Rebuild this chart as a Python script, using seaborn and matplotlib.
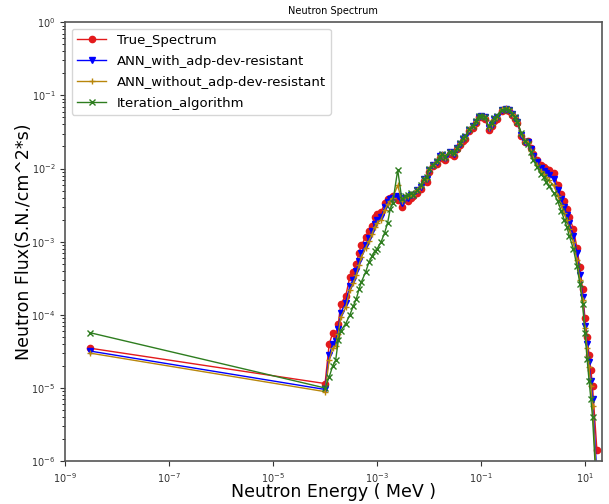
import matplotlib
matplotlib.use("Agg")
import matplotlib.pyplot as plt
import seaborn as sns
import pandas as pd

# energy grid (MeV): one thermal point, then 16 bins per decade from 1e-4 up to ~17 MeV
energy = [3e-9,
          1e-4, 1.2e-4, 1.4e-4, 1.6e-4, 1.8e-4, 2e-4, 2.5e-4, 3e-4, 3.5e-4, 4e-4, 4.5e-4, 5e-4, 6e-4, 7e-4, 8e-4, 9e-4,
          1e-3, 1.2e-3, 1.4e-3, 1.6e-3, 1.8e-3, 2e-3, 2.5e-3, 3e-3, 3.5e-3, 4e-3, 4.5e-3, 5e-3, 6e-3, 7e-3, 8e-3, 9e-3,
          1e-2, 1.2e-2, 1.4e-2, 1.6e-2, 1.8e-2, 2e-2, 2.5e-2, 3e-2, 3.5e-2, 4e-2, 4.5e-2, 5e-2, 6e-2, 7e-2, 8e-2, 9e-2,
          0.1, 0.12, 0.14, 0.16, 0.18, 0.2, 0.25, 0.3, 0.35, 0.4, 0.45, 0.5, 0.6, 0.7, 0.8, 0.9,
          1.0, 1.2, 1.4, 1.6, 1.8, 2.0, 2.5, 3.0, 3.5, 4.0, 4.5, 5.0, 6.0, 7.0, 8.0, 9.0,
          10.0, 11.0, 12.0, 13.0, 14.0, 17.0]

true_spectrum = [3.5e-5,
                 1.15e-5, 3.98e-5, 5.62e-5, 5.25e-5, 7.59e-5, 1.41e-4, 1.82e-4, 3.31e-4, 3.80e-4, 5.01e-4, 7.08e-4, 8.91e-4, 1.15e-3, 1.38e-3, 1.66e-3, 2.19e-3,
                 2.40e-3, 2.51e-3, 3.39e-3, 3.80e-3, 3.98e-3, 4.17e-3, 3.72e-3, 3.02e-3, 3.80e-3, 3.63e-3, 3.98e-3, 4.17e-3, 4.68e-3, 5.25e-3, 6.76e-3, 6.61e-3,
                 8.91e-3, 1.07e-2, 1.15e-2, 1.38e-2, 1.41e-2, 1.32e-2, 1.58e-2, 1.48e-2, 1.82e-2, 2.09e-2, 2.40e-2, 2.51e-2, 3.24e-2, 3.63e-2, 4.17e-2, 5.01e-2,
                 5.01e-2, 4.79e-2, 3.31e-2, 3.80e-2, 4.47e-2, 4.79e-2, 6.17e-2, 6.31e-2, 6.17e-2, 5.37e-2, 4.79e-2, 4.17e-2, 2.75e-2, 2.29e-2, 2.34e-2, 1.91e-2,
                 1.58e-2, 1.32e-2, 1.12e-2, 1.05e-2, 1.00e-2, 9.55e-3, 8.71e-3, 6.03e-3, 4.47e-3, 3.55e-3, 2.82e-3, 2.19e-3, 1.48e-3, 8.32e-4, 4.47e-4, 2.24e-4,
                 8.91e-5, 5.01e-5, 2.82e-5, 1.78e-5, 1.05e-5, 1.41e-6]

ann_with = [3.2e-5,
            9.55e-6, 2.82e-5, 3.98e-5, 4.37e-5, 6.31e-5, 1.07e-4, 1.45e-4, 2.51e-4, 3.02e-4, 3.98e-4, 5.50e-4, 7.08e-4, 9.12e-4, 1.12e-3, 1.38e-3, 1.74e-3,
            2.00e-3, 2.19e-3, 2.95e-3, 3.47e-3, 3.80e-3, 3.98e-3, 4.17e-3, 3.39e-3, 3.98e-3, 3.98e-3, 4.37e-3, 4.37e-3, 5.01e-3, 5.62e-3, 7.24e-3, 7.08e-3,
            9.55e-3, 1.12e-2, 1.23e-2, 1.48e-2, 1.55e-2, 1.41e-2, 1.66e-2, 1.58e-2, 1.91e-2, 2.19e-2, 2.51e-2, 2.69e-2, 3.39e-2, 3.80e-2, 4.37e-2, 5.13e-2,
            5.25e-2, 5.01e-2, 3.55e-2, 3.98e-2, 4.68e-2, 5.01e-2, 6.31e-2, 6.46e-2, 6.31e-2, 5.50e-2, 4.90e-2, 4.27e-2, 2.88e-2, 2.29e-2, 2.29e-2, 1.82e-2,
            1.48e-2, 1.23e-2, 1.02e-2, 9.33e-3, 8.71e-3, 8.13e-3, 7.24e-3, 5.13e-3, 3.80e-3, 2.95e-3, 2.34e-3, 1.82e-3, 1.20e-3, 6.92e-4, 3.55e-4, 1.78e-4,
            7.08e-5, 3.98e-5, 2.24e-5, 1.26e-5, 7.08e-6, 6.31e-7]

ann_without = [3.0e-5,
               8.91e-6, 2.40e-5, 3.47e-5, 3.80e-5, 5.50e-5, 9.33e-5, 1.26e-4, 2.19e-4, 2.69e-4, 3.47e-4, 4.79e-4, 6.17e-4, 8.13e-4, 1.02e-3, 1.26e-3, 1.58e-3,
               1.78e-3, 2.00e-3, 2.69e-3, 3.24e-3, 3.63e-3, 3.98e-3, 5.89e-3, 3.55e-3, 4.07e-3, 4.17e-3, 4.47e-3, 4.37e-3, 5.01e-3, 5.75e-3, 7.08e-3, 7.24e-3,
               9.77e-3, 1.12e-2, 1.26e-2, 1.48e-2, 1.58e-2, 1.41e-2, 1.70e-2, 1.62e-2, 1.91e-2, 2.24e-2, 2.57e-2, 2.69e-2, 3.47e-2, 3.80e-2, 4.47e-2, 5.13e-2,
               5.25e-2, 5.13e-2, 3.63e-2, 4.07e-2, 4.79e-2, 5.13e-2, 6.46e-2, 6.61e-2, 6.46e-2, 5.62e-2, 5.01e-2, 4.37e-2, 2.95e-2, 2.34e-2, 2.24e-2, 1.74e-2,
               1.38e-2, 1.12e-2, 9.33e-3, 8.32e-3, 7.59e-3, 6.92e-3, 5.89e-3, 4.27e-3, 3.16e-3, 2.45e-3, 1.95e-3, 1.48e-3, 9.77e-4, 5.62e-4, 3.02e-4, 1.58e-4,
               6.61e-5, 3.55e-5, 1.91e-5, 1.05e-5, 5.62e-6, 4.47e-7]

iteration = [5.7e-5,
             1.00e-5, 1.41e-5, 2.00e-5, 2.40e-5, 4.47e-5, 6.03e-5, 7.59e-5, 1.00e-4, 1.32e-4, 1.66e-4, 2.24e-4, 2.82e-4, 3.80e-4, 5.25e-4, 6.31e-4, 7.41e-4,
             7.94e-4, 1.00e-3, 1.32e-3, 1.82e-3, 2.82e-3, 3.39e-3, 9.55e-3, 3.80e-3, 4.17e-3, 4.37e-3, 4.68e-3, 4.37e-3, 5.01e-3, 6.03e-3, 7.24e-3, 7.59e-3,
             1.00e-2, 1.12e-2, 1.26e-2, 1.45e-2, 1.58e-2, 1.45e-2, 1.70e-2, 1.62e-2, 1.91e-2, 2.24e-2, 2.63e-2, 2.75e-2, 3.47e-2, 3.80e-2, 4.47e-2, 5.25e-2,
             5.25e-2, 5.01e-2, 3.80e-2, 4.17e-2, 4.90e-2, 5.25e-2, 6.31e-2, 6.46e-2, 6.31e-2, 5.62e-2, 5.01e-2, 4.37e-2, 3.02e-2, 2.34e-2, 2.19e-2, 1.66e-2,
             1.32e-2, 1.05e-2, 8.51e-3, 7.59e-3, 6.61e-3, 5.75e-3, 4.68e-3, 3.55e-3, 2.63e-3, 2.00e-3, 1.58e-3, 1.20e-3, 7.94e-4, 4.68e-4, 2.63e-4, 1.41e-4,
             5.62e-5, 2.51e-5, 1.26e-5, 7.08e-6, 3.98e-6, 3.16e-7]

series = [
    ("True_Spectrum", true_spectrum, "#e31a1c", "o", 4.5),
    ("ANN_with_adp-dev-resistant", ann_with, "#0000ff", "v", 4.5),
    ("ANN_without_adp-dev-resistant", ann_without, "#b8860b", "+", 5),
    ("Iteration_algorithm", iteration, "#2e7d1f", "x", 4),
]

fig = plt.figure(figsize=(6.09, 5.04), dpi=100)
ax = fig.add_axes([0.107, 0.085, 0.881, 0.871])

for name, vals, col, mk, ms in series:
    df = pd.DataFrame({"energy": energy, "flux": vals})
    sns.lineplot(data=df, x="energy", y="flux", ax=ax, color=col, marker=mk,
                 markersize=ms, markeredgecolor=col, markeredgewidth=1.0,
                 linewidth=1.0, label=name)

ax.set_xscale("log")
ax.set_yscale("log")
ax.set_xlim(1e-9, 21)
ax.set_ylim(1e-6, 1)
ax.set_xticks([1e-9, 1e-7, 1e-5, 1e-3, 1e-1, 1e1])
ax.set_yticks([1e-6, 1e-5, 1e-4, 1e-3, 1e-2, 1e-1, 1e0])
ax.xaxis.set_minor_locator(matplotlib.ticker.NullLocator())
ax.yaxis.set_minor_formatter(matplotlib.ticker.NullFormatter())
ax.tick_params(labelsize=7, colors="#333333")

for sp in ax.spines.values():
    sp.set_color("#555555")
    sp.set_linewidth(1.2)

ax.set_title("Neutron Spectrum", fontsize=7)
ax.set_xlabel("Neutron Energy ( MeV )", fontsize=12.5, labelpad=-1)
ax.set_ylabel("Neutron Flux(S.N./cm^2*s)", fontsize=12.5, labelpad=-1)

ax.legend(loc="upper left", fontsize=9.5, frameon=True, fancybox=True,
          edgecolor="#cccccc", handlelength=2.2, labelspacing=0.6)

fig.savefig("out.png", dpi=100)
